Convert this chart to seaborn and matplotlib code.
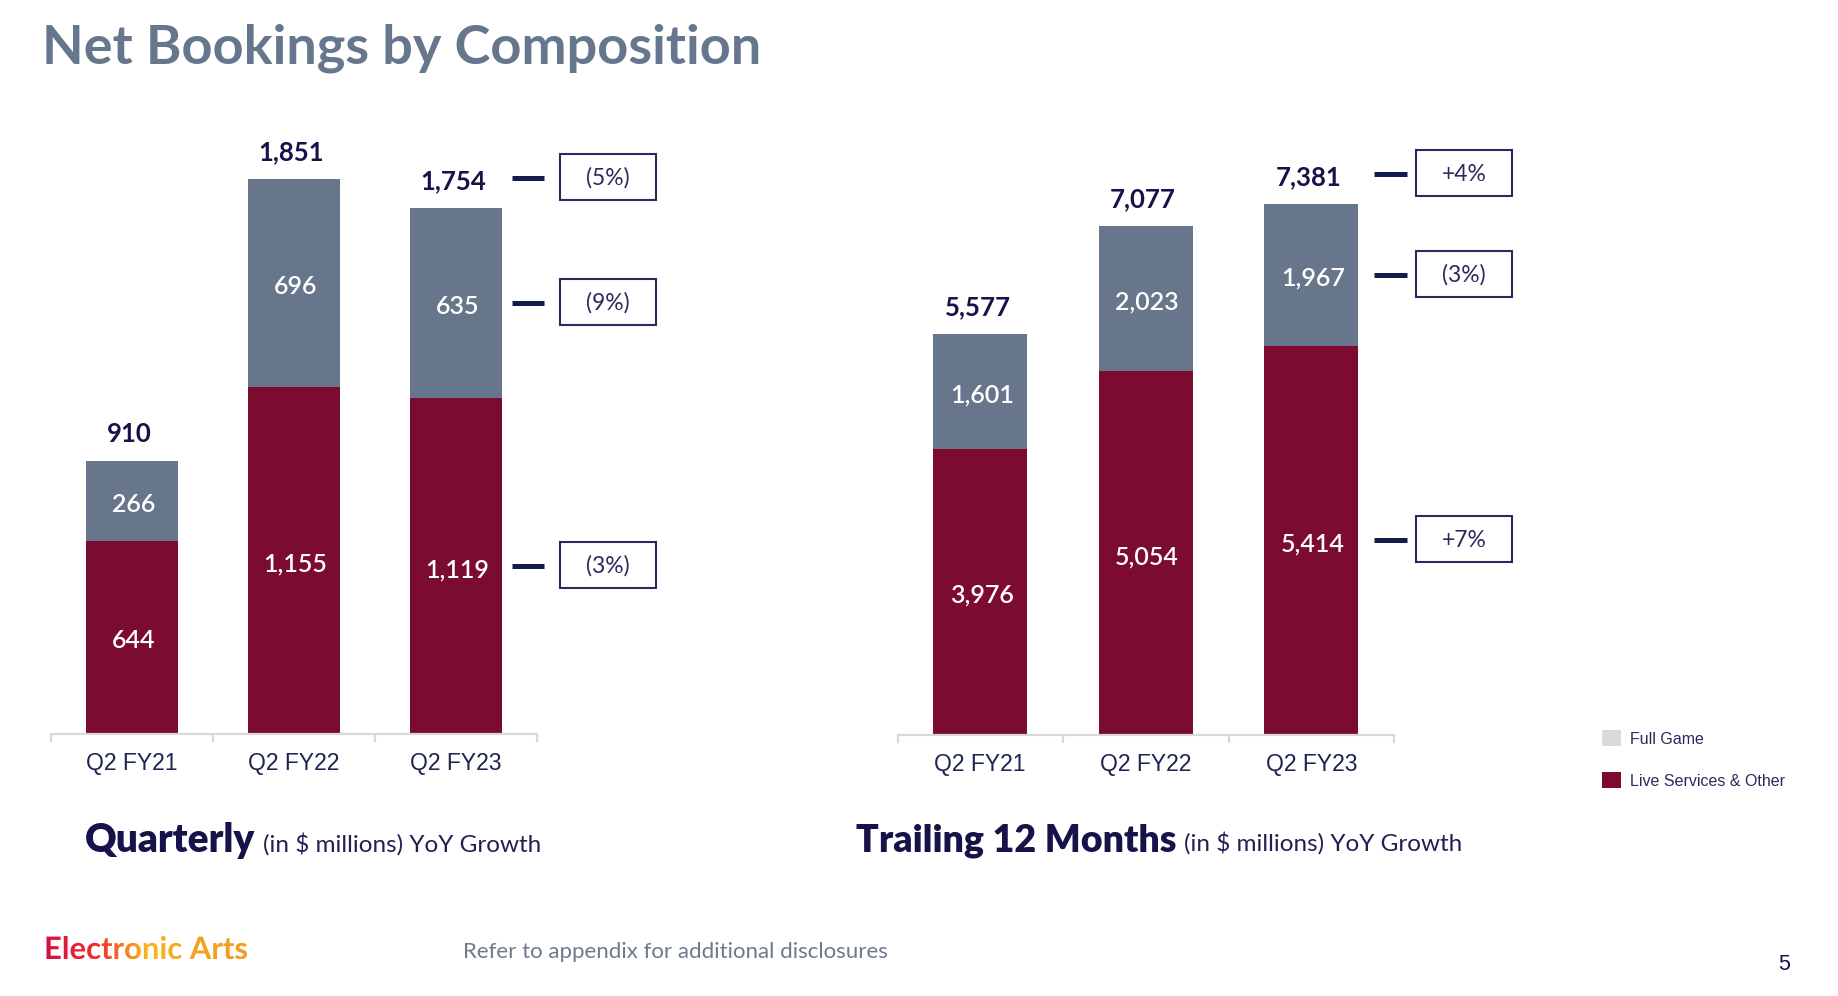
import numpy as np
import pandas as pd
import seaborn as sns
import matplotlib
matplotlib.use('Agg')
import matplotlib.pyplot as plt
from matplotlib.patches import Rectangle, Patch, PathPatch
from matplotlib.textpath import TextPath
from matplotlib.font_manager import FontProperties
from matplotlib.transforms import Affine2D
from matplotlib.colors import LinearSegmentedColormap

# data
categories = ['Q2 FY21', 'Q2 FY22', 'Q2 FY23']
q_full = [266, 696, 635]
q_live = [644, 1155, 1119]
q_total = [910, 1851, 1754]
q_growth = ['(5%)', '(9%)', '(3%)']      # total, full game, live services
t_full = [1601, 2023, 1967]
t_live = [3976, 5054, 5414]
t_total = [5577, 7077, 7381]
t_growth = ['+4%', '(3%)', '+7%']
legend_labels = ['Full Game', 'Live Services & Other']

SLATE = '#68768C'
MAROON = '#7B0B2F'
NAVY = '#16124A'
W, H = 1838, 996

sns.set_theme(style='white')
plt.rcParams['font.family'] = ['Lato', 'DejaVu Sans']

fig = plt.figure(figsize=(W / 100, H / 100), dpi=100)
fig.patch.set_facecolor('white')

ax_q = fig.add_axes([51 / W, (H - 734) / H, 486 / W, 600 / H])
ax_t = fig.add_axes([897.5 / W, (H - 735) / H, 496.5 / W, 611.5 / H])

# overlay in pixel coordinates (y measured from the top)
ov = fig.add_axes([0, 0, 1, 1], zorder=10)
ov.set_xlim(0, W)
ov.set_ylim(H, 0)
ov.axis('off')
ov.patch.set_alpha(0)


def to_px(ax, x, y):
    px, py = ax.transData.transform((x, y))
    return px, H - py


def draw_panel(ax, full, live, total, growth, ymax, dash_x, box_x):
    df = pd.DataFrame({'cat': categories, 'full': full, 'live': live, 'total': total})
    sns.barplot(data=df, x='cat', y='total', color=SLATE, saturation=1,
                width=0.57, errorbar=None, linewidth=0, ax=ax)
    sns.barplot(data=df, x='cat', y='live', color=MAROON, saturation=1,
                width=0.57, errorbar=None, linewidth=0, ax=ax)
    ax.set_xlim(-0.5, 2.5)
    ax.set_ylim(0, ymax)
    ax.set_facecolor('none')
    ax.set_xlabel('')
    ax.set_ylabel('')
    ax.set_yticks([])
    for s in ['top', 'right', 'left']:
        ax.spines[s].set_visible(False)
    ax.spines['bottom'].set_color('#D9D9D9')
    ax.spines['bottom'].set_linewidth(1.6)
    ax.spines['bottom'].set_zorder(5)
    ax.set_xticks(range(3))
    ax.set_xticklabels(categories, family='Liberation Sans', fontsize=16.5, color='#1E2452')
    ax.set_xticks([-0.5, 0.5, 1.5, 2.5], minor=True)
    ax.tick_params(axis='x', which='major', length=0, pad=13)
    ax.tick_params(axis='x', which='minor', bottom=True, length=5.5, width=1.6,
                   color='#D9D9D9', direction='out')

    for i in range(3):
        ax.annotate(f'{total[i]:,}', (i, total[i]), xytext=(-2, 13.5), textcoords='offset points',
                    ha='center', va='baseline', fontsize=18.5, fontweight='bold', color=NAVY)
        ax.annotate(f'{full[i]:,}', (i, full[i] / 2 + live[i]), xytext=(1, -2.5),
                    textcoords='offset points', ha='center', va='center',
                    fontsize=18, fontweight='semibold', color='white')
        ax.annotate(f'{live[i]:,}', (i, live[i] / 2), xytext=(1, -2.5),
                    textcoords='offset points', ha='center', va='center',
                    fontsize=18, fontweight='semibold', color='white')

    # growth markers next to the last bar
    levels = [to_px(ax, 2, total[2])[1] - 30,
              to_px(ax, 2, live[2] + full[2] / 2)[1],
              to_px(ax, 2, live[2] / 2)[1]]
    x0, x1 = dash_x
    for yy, g in zip(levels, growth):
        ov.plot([x0, x1], [yy, yy], color='#141B4D', lw=3.6, solid_capstyle='butt')
        ov.add_patch(Rectangle((box_x - 48, yy - 24), 96, 46, fc='white',
                               ec='#2A2A5E', lw=1.5, zorder=2))
        ov.text(box_x, yy, g, ha='center', va='center', fontsize=16.5,
                color='#2A2A5E', fontweight='normal', zorder=3)


draw_panel(ax_q, q_full, q_live, q_total, q_growth, 2000, (512, 544), 608)
draw_panel(ax_t, t_full, t_live, t_total, t_growth, 8500, (1374, 1407), 1464)

# title and panel captions
ov.text(42, 63, 'Net Bookings by Composition', fontsize=39, fontweight='bold',
        color='#66768C', va='baseline', ha='left')

r = fig.canvas.get_renderer()
for x, big, y, fs in [(85, 'Quarterly', 852, 28), (856, 'Trailing 12 Months', 851, 27)]:
    t1 = ov.text(x, y, big, fontsize=fs, fontweight='heavy', color=NAVY, va='baseline')
    bb = t1.get_window_extent(renderer=r)
    ov.text(bb.x1 + 8, y, '(in $ millions) YoY Growth', fontsize=17.5,
            color='#241F52', va='baseline')

# legend
handles = [Patch(facecolor='#D9D9D9', edgecolor='none'), Patch(facecolor=MAROON, edgecolor='none')]
leg = fig.legend(handles, legend_labels, loc='upper left', bbox_to_anchor=(1588 / W, 1 - 716 / H),
                 frameon=False, prop={'family': 'Liberation Sans', 'size': 11.5},
                 handlelength=1.15, handleheight=1.15, handletextpad=0.55, labelspacing=1.6)
for t in leg.get_texts():
    t.set_color('#2B2A5E')

# footer
fp = FontProperties(family='Lato', weight='bold')
tp = TextPath((0, 0), 'Electronic Arts', size=31, prop=fp)
ea_x, ea_y = 44, 959
tpath = Affine2D().scale(1, -1).translate(ea_x, ea_y).transform_path(tp)
patch = PathPatch(tpath, fc='none', ec='none')
ov.add_patch(patch)
ext = tpath.get_extents()
grad_cmap = LinearSegmentedColormap.from_list('ea', ['#D5123F', '#EE2E35', '#F8B71C', '#F5A21F', '#F39B1F'])
im = ov.imshow(np.linspace(0, 1, 256)[None, :], cmap=grad_cmap, aspect='auto',
               extent=(ext.x0, ext.x1, ext.y1, ext.y0), zorder=11)
im.set_clip_path(patch)
ov.set_xlim(0, W)
ov.set_ylim(H, 0)

ov.text(463, 958, 'Refer to appendix for additional disclosures', fontsize=16,
        color='#6E7A8C', va='baseline')
ov.text(1784, 970, '5', fontsize=15.5, color=NAVY, ha='center', va='baseline',
        family='Liberation Sans')

fig.savefig('out.png', dpi=100, facecolor='white')
